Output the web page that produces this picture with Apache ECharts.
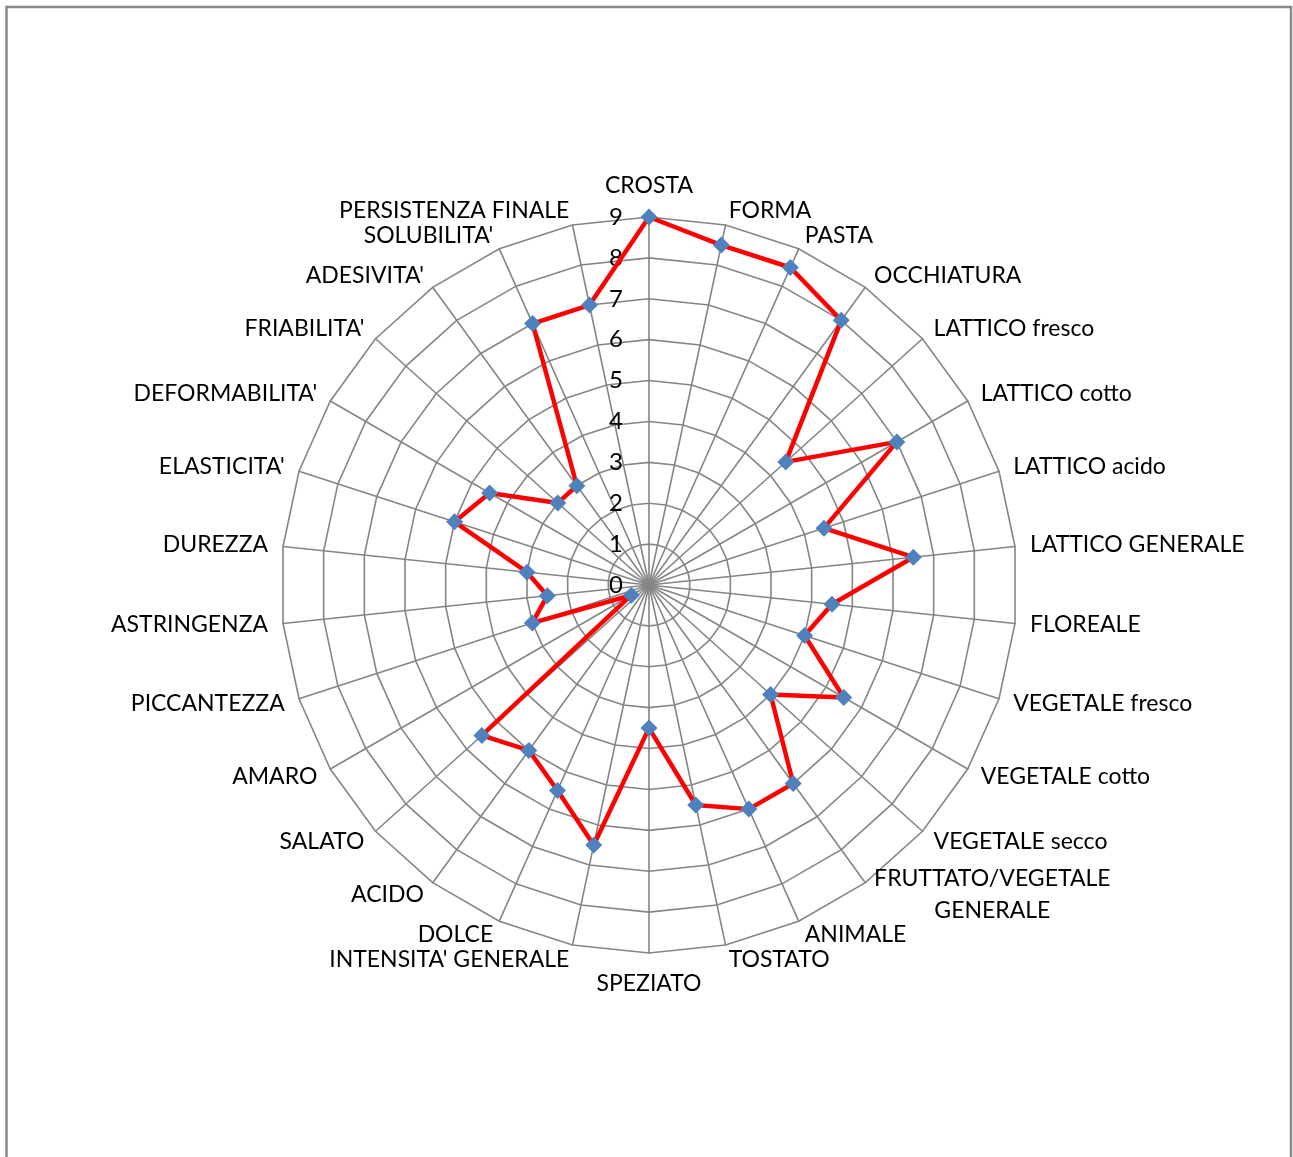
<!DOCTYPE html>
<html>
<head>
<meta charset="utf-8">
<title>Profilo sensoriale</title>
<script src="https://cdn.jsdelivr.net/npm/echarts@6/dist/echarts.min.js"></script>
<style>
  html, body { margin: 0; padding: 0; background: #ffffff; }
  #chart { width: 1293px; height: 1157px; }
</style>
</head>
<body>
<div id="chart"></div>
<script>
// Sensory attributes, clockwise from the top
const categories = [
  'CROSTA', 'FORMA', 'PASTA', 'OCCHIATURA', 'LATTICO fresco', 'LATTICO cotto',
  'LATTICO acido', 'LATTICO GENERALE', 'FLOREALE', 'VEGETALE fresco',
  'VEGETALE cotto', 'VEGETALE secco', 'FRUTTATO/VEGETALE\nGENERALE', 'ANIMALE',
  'TOSTATO', 'SPEZIATO', "INTENSITA' GENERALE", 'DOLCE', 'ACIDO', 'SALATO',
  'AMARO', 'PICCANTEZZA', 'ASTRINGENZA', 'DUREZZA', "ELASTICITA'",
  "DEFORMABILITA'", "FRIABILITA'", "ADESIVITA'", "SOLUBILITA'", 'PERSISTENZA FINALE'
];

// Panel scores, same order as categories
const scores = [
  9, 8.5, 8.5, 8, 4.5, 7,
  4.5, 6.5, 4.5, 4,
  5.5, 4, 6, 6,
  5.5, 3.5, 6.5, 5.5, 5, 5.5,
  0.5, 3, 2.5, 3, 5,
  4.5, 3, 3, 7, 7
];

// Scale of the radial axis
const scaleMin = 0;
const scaleMax = 9;
const scaleSteps = 9;

const FONT = 'Lato';
const GRID = '#858585';

// ECharts lays indicators out counter-clockwise; reverse all but the first
// so the attributes run clockwise.
const order = [0].concat(categories.slice(1).map((_, i) => categories.length - 1 - i));

const indicators = order.map((idx, k) => {
  const ind = { name: categories[idx], min: scaleMin, max: scaleMax };
  if (k === 0) {
    ind.axisLabel = {
      show: true,
      color: '#000',
      fontFamily: FONT,
      fontSize: 24,
      margin: 26,
      formatter: v => String(v)
    };
  }
  return ind;
});
const values = order.map(idx => scores[idx]);

const chart = echarts.init(document.getElementById('chart'), null, { renderer: 'canvas' });

chart.setOption({
  animation: false,
  backgroundColor: '#ffffff',
  graphic: [{
    type: 'rect',
    shape: { x: 6.5, y: 7, width: 1284.5, height: 1170 },
    style: { fill: 'none', stroke: '#898989', lineWidth: 2.5 },
    silent: true
  }],
  radar: {
    center: [649, 585],
    radius: 368,
    startAngle: 90,
    shape: 'polygon',
    splitNumber: scaleSteps,
    axisName: {
      color: '#000',
      fontFamily: FONT,
      fontSize: 23,
      formatter: name => name.split('\n').map(s => '{c|' + s + '}').join('\n'),
      rich: {
        c: { align: 'center', color: '#000', fontFamily: FONT, fontSize: 23, lineHeight: 32 }
      }
    },
    nameGap: 15,
    axisLine: { show: true, lineStyle: { color: GRID, width: 1.6 } },
    splitLine: { show: true, lineStyle: { color: GRID, width: 1.6 } },
    splitArea: { show: false },
    axisTick: { show: false },
    axisLabel: { show: false },
    indicator: indicators
  },
  series: [{
    type: 'radar',
    symbol: 'diamond',
    symbolSize: 17,
    lineStyle: { color: '#ff0000', width: 4.5 },
    itemStyle: { color: '#4f81bd' },
    data: [{ value: values, name: 'Profilo' }]
  }]
});
</script>
</body>
</html>
